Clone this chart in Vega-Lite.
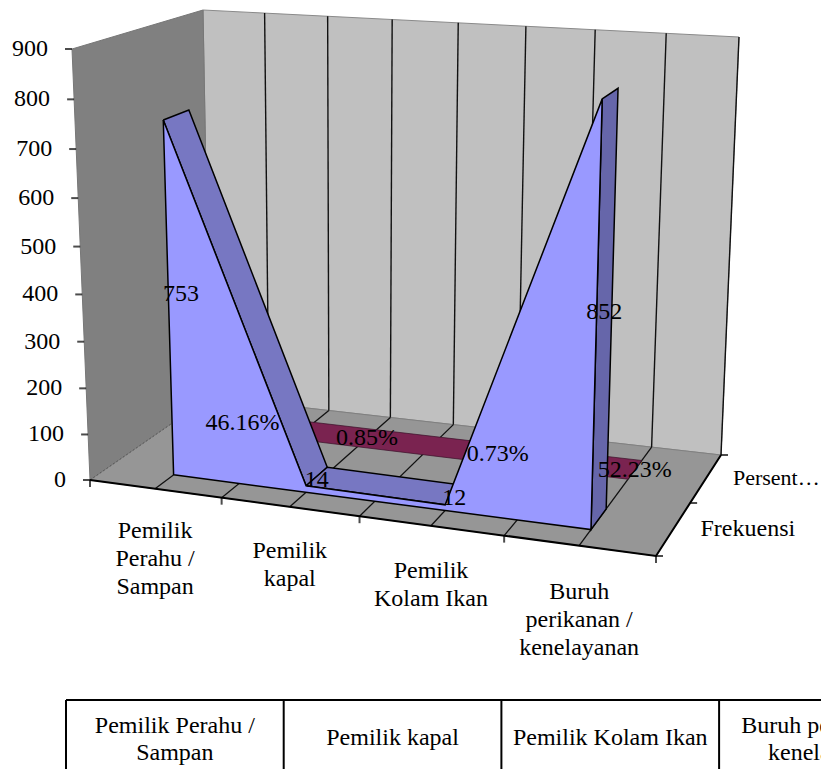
{"$schema":"https://vega.github.io/schema/vega-lite/v6.json","description":"3D area chart; rows hold category position, depth and value, and a projection transform places them on screen.","width":821,"height":769,"padding":0,"autosize":"none","background":"white","config":{"view":{"stroke":null}},
"data":{"values":[
{"part":"wallBack","seq":1,"cat":0,"depth":2,"value":0},{"part":"wallBack","seq":2,"cat":4,"depth":2,"value":0},{"part":"wallBack","seq":3,"cat":4,"depth":2,"value":900},{"part":"wallBack","seq":4,"cat":0,"depth":2,"value":900},{"part":"wallBack","seq":5,"cat":0,"depth":2,"value":0},
{"part":"wallLeft","seq":1,"cat":0,"depth":0,"value":0},{"part":"wallLeft","seq":2,"cat":0,"depth":2,"value":0},{"part":"wallLeft","seq":3,"cat":0,"depth":2,"value":900},{"part":"wallLeft","seq":4,"cat":0,"depth":0,"value":900},{"part":"wallLeft","seq":5,"cat":0,"depth":0,"value":0},
{"part":"floor","seq":1,"cat":0,"depth":0,"value":0},{"part":"floor","seq":2,"cat":4,"depth":0,"value":0},{"part":"floor","seq":3,"cat":4,"depth":2,"value":0},{"part":"floor","seq":4,"cat":0,"depth":2,"value":0},{"part":"floor","seq":5,"cat":0,"depth":0,"value":0},
{"part":"backGrid","id":1,"seq":1,"cat":0.5,"depth":2,"value":0},{"part":"backGrid","id":1,"seq":2,"cat":0.5,"depth":2,"value":900},
{"part":"backGrid","id":2,"seq":1,"cat":1,"depth":2,"value":0},{"part":"backGrid","id":2,"seq":2,"cat":1,"depth":2,"value":900},
{"part":"backGrid","id":3,"seq":1,"cat":1.5,"depth":2,"value":0},{"part":"backGrid","id":3,"seq":2,"cat":1.5,"depth":2,"value":900},
{"part":"backGrid","id":4,"seq":1,"cat":2,"depth":2,"value":0},{"part":"backGrid","id":4,"seq":2,"cat":2,"depth":2,"value":900},
{"part":"backGrid","id":5,"seq":1,"cat":2.5,"depth":2,"value":0},{"part":"backGrid","id":5,"seq":2,"cat":2.5,"depth":2,"value":900},
{"part":"backGrid","id":6,"seq":1,"cat":3,"depth":2,"value":0},{"part":"backGrid","id":6,"seq":2,"cat":3,"depth":2,"value":900},
{"part":"backGrid","id":7,"seq":1,"cat":3.5,"depth":2,"value":0},{"part":"backGrid","id":7,"seq":2,"cat":3.5,"depth":2,"value":900},
{"part":"backGrid","id":8,"seq":1,"cat":4,"depth":2,"value":0},{"part":"backGrid","id":8,"seq":2,"cat":4,"depth":2,"value":900},
{"part":"floorGrid","id":1,"seq":1,"cat":0.5,"depth":0,"value":0},{"part":"floorGrid","id":1,"seq":2,"cat":0.5,"depth":2,"value":0},
{"part":"floorGrid","id":2,"seq":1,"cat":1,"depth":0,"value":0},{"part":"floorGrid","id":2,"seq":2,"cat":1,"depth":2,"value":0},
{"part":"floorGrid","id":3,"seq":1,"cat":1.5,"depth":0,"value":0},{"part":"floorGrid","id":3,"seq":2,"cat":1.5,"depth":2,"value":0},
{"part":"floorGrid","id":4,"seq":1,"cat":2,"depth":0,"value":0},{"part":"floorGrid","id":4,"seq":2,"cat":2,"depth":2,"value":0},
{"part":"floorGrid","id":5,"seq":1,"cat":2.5,"depth":0,"value":0},{"part":"floorGrid","id":5,"seq":2,"cat":2.5,"depth":2,"value":0},
{"part":"floorGrid","id":6,"seq":1,"cat":3,"depth":0,"value":0},{"part":"floorGrid","id":6,"seq":2,"cat":3,"depth":2,"value":0},
{"part":"floorGrid","id":7,"seq":1,"cat":3.5,"depth":0,"value":0},{"part":"floorGrid","id":7,"seq":2,"cat":3.5,"depth":2,"value":0},
{"part":"floorEdge","seq":1,"cat":0,"depth":0,"value":0},{"part":"floorEdge","seq":2,"cat":0,"depth":2,"value":0},
{"part":"persen","seq":1,"cat":0.5,"depth":1.3,"value":0.4616},{"part":"persen","seq":2,"cat":1.5,"depth":1.3,"value":0.0085},{"part":"persen","seq":3,"cat":2.5,"depth":1.3,"value":0.0073},{"part":"persen","seq":4,"cat":3.5,"depth":1.3,"value":0.5223},{"part":"persen","seq":5,"cat":3.5,"depth":1.7,"value":0.5223},{"part":"persen","seq":6,"cat":2.5,"depth":1.7,"value":0.0073},{"part":"persen","seq":7,"cat":1.5,"depth":1.7,"value":0.0085},{"part":"persen","seq":8,"cat":0.5,"depth":1.7,"value":0.4616},{"part":"persen","seq":9,"cat":0.5,"depth":1.3,"value":0.4616},
{"part":"slopeLeft","seq":1,"cat":0.5,"depth":0.3,"value":753},{"part":"slopeLeft","seq":2,"cat":1.5,"depth":0.3,"value":14},{"part":"slopeLeft","seq":3,"cat":1.5,"depth":0.7,"value":14},{"part":"slopeLeft","seq":4,"cat":0.5,"depth":0.7,"value":753},{"part":"slopeLeft","seq":5,"cat":0.5,"depth":0.3,"value":753},
{"part":"slopeMid","seq":1,"cat":1.5,"depth":0.3,"value":14},{"part":"slopeMid","seq":2,"cat":2.5,"depth":0.3,"value":12},{"part":"slopeMid","seq":3,"cat":2.5,"depth":0.7,"value":12},{"part":"slopeMid","seq":4,"cat":1.5,"depth":0.7,"value":14},{"part":"slopeMid","seq":5,"cat":1.5,"depth":0.3,"value":14},
{"part":"endRight","seq":1,"cat":3.5,"depth":0.3,"value":852},{"part":"endRight","seq":2,"cat":3.5,"depth":0.7,"value":852},{"part":"endRight","seq":3,"cat":3.5,"depth":0.7,"value":0},{"part":"endRight","seq":4,"cat":3.5,"depth":0.3,"value":0},{"part":"endRight","seq":5,"cat":3.5,"depth":0.3,"value":852},
{"part":"front","seq":1,"cat":0.5,"depth":0.3,"value":0},{"part":"front","seq":2,"cat":0.5,"depth":0.3,"value":753},{"part":"front","seq":3,"cat":1.5,"depth":0.3,"value":14},{"part":"front","seq":4,"cat":2.5,"depth":0.3,"value":12},{"part":"front","seq":5,"cat":3.5,"depth":0.3,"value":852},{"part":"front","seq":6,"cat":3.5,"depth":0.3,"value":0},{"part":"front","seq":7,"cat":0.5,"depth":0.3,"value":0},
{"part":"axis","seq":1,"cat":0,"depth":0,"value":0},{"part":"axis","seq":2,"cat":4,"depth":0,"value":0},{"part":"axis","seq":3,"cat":4,"depth":2,"value":0},
{"part":"ytick","cat":0,"depth":0,"value":0,"label":"0"},{"part":"ytick","cat":0,"depth":0,"value":100,"label":"100"},{"part":"ytick","cat":0,"depth":0,"value":200,"label":"200"},{"part":"ytick","cat":0,"depth":0,"value":300,"label":"300"},{"part":"ytick","cat":0,"depth":0,"value":400,"label":"400"},{"part":"ytick","cat":0,"depth":0,"value":500,"label":"500"},{"part":"ytick","cat":0,"depth":0,"value":600,"label":"600"},{"part":"ytick","cat":0,"depth":0,"value":700,"label":"700"},{"part":"ytick","cat":0,"depth":0,"value":800,"label":"800"},{"part":"ytick","cat":0,"depth":0,"value":900,"label":"900"},
{"part":"cattick","cat":0,"depth":0,"value":0},{"part":"cattick","cat":1,"depth":0,"value":0},{"part":"cattick","cat":2,"depth":0,"value":0},{"part":"cattick","cat":3,"depth":0,"value":0},{"part":"cattick","cat":4,"depth":0,"value":0},
{"part":"depthtick","cat":4,"depth":0,"value":0},{"part":"depthtick","cat":4,"depth":1,"value":0},{"part":"depthtick","cat":4,"depth":2,"value":0},
{"part":"catlabel","cat":0.5,"depth":0,"value":0,"label":"Pemilik\nPerahu /\nSampan"},{"part":"catlabel","cat":1.5,"depth":0,"value":0,"label":"Pemilik\nkapal"},{"part":"catlabel","cat":2.5,"depth":0,"value":0,"label":"Pemilik\nKolam Ikan"},{"part":"catlabel","cat":3.5,"depth":0,"value":0,"label":"Buruh\nperikanan /\nkenelayanan"},
{"part":"depthlabel","cat":4,"depth":0.5,"value":0,"label":"Frekuensi"},{"part":"depthlabel2","cat":4,"depth":1.5,"value":0,"label":"Persent…"},
{"part":"dlabel","cat":0.5,"depth":0.5,"value":753,"label":"753"},{"part":"dlabel","cat":1.5,"depth":0.5,"value":14,"label":"14"},{"part":"dlabel","cat":2.5,"depth":0.5,"value":12,"label":"12"},{"part":"dlabel","cat":3.5,"depth":0.5,"value":852,"label":"852"},
{"part":"dlabel","cat":0.5,"depth":1.5,"value":0.4616,"label":"46.16%"},{"part":"dlabel","cat":1.5,"depth":1.5,"value":0.0085,"label":"0.85%"},{"part":"dlabel","cat":2.5,"depth":1.5,"value":0.0073,"label":"0.73%"},{"part":"dlabel","cat":3.5,"depth":1.5,"value":0.5223,"label":"52.23%"},
{"part":"tableRule","id":0,"seq":1,"col":0,"row":0},{"part":"tableRule","id":0,"seq":2,"col":0,"row":1},
{"part":"tableRule","id":1,"seq":1,"col":1,"row":0},{"part":"tableRule","id":1,"seq":2,"col":1,"row":1},
{"part":"tableRule","id":2,"seq":1,"col":2,"row":0},{"part":"tableRule","id":2,"seq":2,"col":2,"row":1},
{"part":"tableRule","id":3,"seq":1,"col":3,"row":0},{"part":"tableRule","id":3,"seq":2,"col":3,"row":1},
{"part":"tableRule","id":4,"seq":1,"col":0,"row":0},{"part":"tableRule","id":4,"seq":2,"col":4,"row":0},
{"part":"tableText","col":0.5,"row":0.37,"label":"Pemilik Perahu /\nSampan"},{"part":"tableText","col":1.5,"row":0.55,"label":"Pemilik kapal"},{"part":"tableText","col":2.5,"row":0.55,"label":"Pemilik Kolam Ikan"},{"part":"tableText","col":3.5,"row":0.37,"label":"Buruh perikanan /\nkenelayanan"}
]},
"transform":[
{"calculate":"datum.cat/4","as":"u0"},
{"calculate":"datum.u0/(1.1-0.1*datum.u0)","as":"w"},
{"calculate":"datum.depth/2","as":"d0"},
{"calculate":"datum.d0/(0.905+0.095*datum.d0)","as":"t"},
{"calculate":"(datum.part==='dlabel'?datum.value/2:datum.value)/900","as":"h0"},
{"calculate":"datum.h0/(1.058-0.058*datum.h0)","as":"h"},
{"calculate":"(1-datum.w)*(1-datum.t)*90+datum.w*(1-datum.t)*656+(1-datum.w)*datum.t*210+datum.w*datum.t*721","as":"bx"},
{"calculate":"(1-datum.w)*(1-datum.t)*480+datum.w*(1-datum.t)*556+(1-datum.w)*datum.t*397+datum.w*datum.t*455","as":"by"},
{"calculate":"(1-datum.w)*(1-datum.t)*72+datum.w*(1-datum.t)*672+(1-datum.w)*datum.t*203+datum.w*datum.t*739","as":"tx"},
{"calculate":"(1-datum.w)*(1-datum.t)*49+datum.w*(1-datum.t)*86+(1-datum.w)*datum.t*10+datum.w*datum.t*37","as":"ty"},
{"calculate":"datum.col!=null?66+217.7*datum.col:datum.bx+(datum.tx-datum.bx)*datum.h","as":"px"},
{"calculate":"datum.row!=null?700+69*datum.row:datum.by+(datum.ty-datum.by)*datum.h+(datum.part==='catlabel'?1.2*datum.cat:0)","as":"py"}
],
"encoding":{
"x":{"field":"px","type":"quantitative","scale":{"domain":[0,821],"nice":false,"zero":false},"axis":null},
"y":{"field":"py","type":"quantitative","scale":{"domain":[769,0],"nice":false,"zero":false},"axis":null}
},
"layer":[
{"transform":[{"filter":"datum.part==='wallBack'"}],"mark":{"type":"line","fill":"#C0C0C0","stroke":"#8a8a8a","strokeWidth":1},"encoding":{"order":{"field":"seq"}}},
{"transform":[{"filter":"datum.part==='wallLeft'"}],"mark":{"type":"line","fill":"#808080","stroke":"#777777","strokeWidth":1},"encoding":{"order":{"field":"seq"}}},
{"transform":[{"filter":"datum.part==='floor'"}],"mark":{"type":"line","fill":"#969696","stroke":"#808080","strokeWidth":1},"encoding":{"order":{"field":"seq"}}},
{"transform":[{"filter":"datum.part==='backGrid'"}],"mark":{"type":"line","stroke":"#111111","strokeWidth":1.4},"encoding":{"order":{"field":"seq"},"detail":{"field":"id"}}},
{"transform":[{"filter":"datum.part==='floorGrid'"}],"mark":{"type":"line","stroke":"#111111","strokeWidth":1.3},"encoding":{"order":{"field":"seq"},"detail":{"field":"id"}}},
{"transform":[{"filter":"datum.part==='floorEdge'"}],"mark":{"type":"line","stroke":"#555555","strokeWidth":1,"strokeDash":[2,2]},"encoding":{"order":{"field":"seq"}}},
{"transform":[{"filter":"datum.part==='persen'"}],"mark":{"type":"line","fill":"#7A2350","stroke":"#3a1028","strokeWidth":0.7},"encoding":{"order":{"field":"seq"}}},
{"transform":[{"filter":"datum.part==='slopeLeft'"}],"mark":{"type":"line","fill":"#7777C2","stroke":"#000000","strokeWidth":1.5},"encoding":{"order":{"field":"seq"}}},
{"transform":[{"filter":"datum.part==='slopeMid'"}],"mark":{"type":"line","fill":"#7777C2","stroke":"#000000","strokeWidth":1.5},"encoding":{"order":{"field":"seq"}}},
{"transform":[{"filter":"datum.part==='endRight'"}],"mark":{"type":"line","fill":"#6666AA","stroke":"#000000","strokeWidth":1.5},"encoding":{"order":{"field":"seq"}}},
{"transform":[{"filter":"datum.part==='front'"}],"mark":{"type":"line","fill":"#9999FF","stroke":"#000000","strokeWidth":1.5},"encoding":{"order":{"field":"seq"}}},
{"transform":[{"filter":"datum.part==='axis'"}],"mark":{"type":"line","stroke":"#000000","strokeWidth":2},"encoding":{"order":{"field":"seq"}}},
{"transform":[{"filter":"datum.part==='ytick'"}],"mark":{"type":"tick","orient":"horizontal","size":7,"thickness":2,"xOffset":-3.5,"color":"#000000"}},
{"transform":[{"filter":"datum.part==='cattick'"}],"mark":{"type":"tick","orient":"vertical","size":7,"thickness":2,"yOffset":3.5,"color":"#000000"}},
{"transform":[{"filter":"datum.part==='depthtick'"}],"mark":{"type":"tick","orient":"horizontal","size":7,"thickness":2,"xOffset":3.5,"color":"#000000"}},
{"transform":[{"filter":"datum.part==='ytick'"}],"mark":{"type":"text","font":"Liberation Serif","fontSize":24,"align":"right","baseline":"middle","dx":-24,"color":"#000000"},"encoding":{"text":{"field":"label"}}},
{"transform":[{"filter":"datum.part==='catlabel'"}],"mark":{"type":"text","font":"Liberation Serif","fontSize":24,"align":"center","baseline":"top","dy":30,"lineBreak":"\n","lineHeight":28,"color":"#000000"},"encoding":{"text":{"field":"label"}}},
{"transform":[{"filter":"datum.part==='depthlabel'"}],"mark":{"type":"text","font":"Liberation Serif","fontSize":24,"align":"left","baseline":"middle","dx":27,"color":"#000000"},"encoding":{"text":{"field":"label"}}},
{"transform":[{"filter":"datum.part==='depthlabel2'"}],"mark":{"type":"text","font":"Liberation Serif","fontSize":22,"align":"left","baseline":"middle","dx":27,"color":"#000000"},"encoding":{"text":{"field":"label"}}},
{"transform":[{"filter":"datum.part==='dlabel'"}],"mark":{"type":"text","font":"Liberation Serif","fontSize":24,"align":"center","baseline":"middle","color":"#000000"},"encoding":{"text":{"field":"label"}}},
{"transform":[{"filter":"datum.part==='tableRule'"}],"mark":{"type":"line","stroke":"#000000","strokeWidth":2,"clip":true},"encoding":{"order":{"field":"seq"},"detail":{"field":"id"}}},
{"transform":[{"filter":"datum.part==='tableText'"}],"mark":{"type":"text","font":"Liberation Serif","fontSize":24,"align":"center","baseline":"middle","lineBreak":"\n","lineHeight":27,"color":"#000000"},"encoding":{"text":{"field":"label"}}}
]}
